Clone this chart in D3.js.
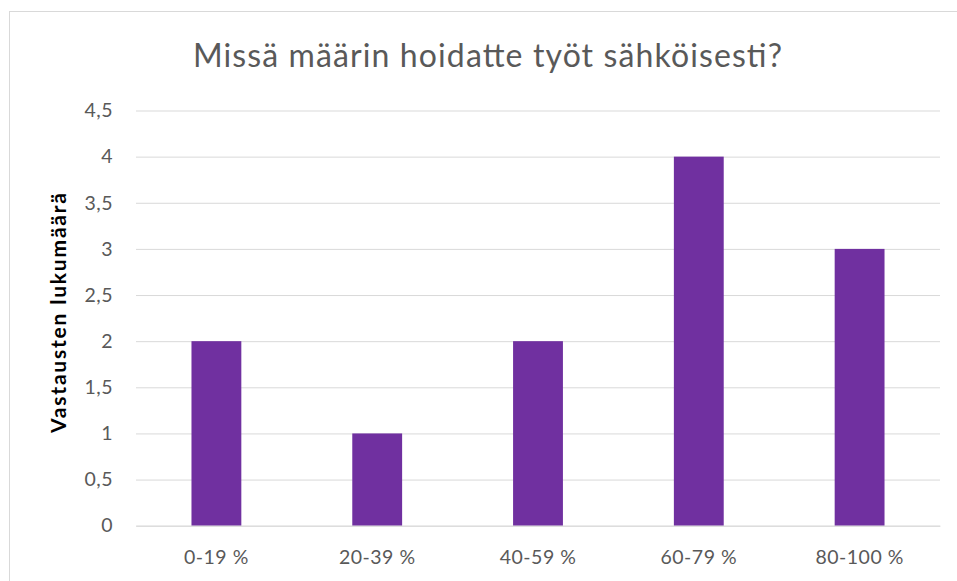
<!DOCTYPE html>
<html><head><meta charset="utf-8">
<script src="https://cdn.jsdelivr.net/npm/d3@7"></script>
<style>body{margin:0;background:#fff}svg{display:block}</style>
</head><body><svg id="c" width="957" height="581"></svg>
<script>
const categories = ["0-19 %", "20-39 %", "40-59 %", "60-79 %", "80-100 %"];
const values = [2, 1, 2, 4, 3];
const yTicks = [0, 0.5, 1, 1.5, 2, 2.5, 3, 3.5, 4, 4.5];
const titleText = "Missä määrin hoidatte työt sähköisesti?";
const yTitle = "Vastausten lukumäärä";

const svg = d3.select("#c");
const font = "Lato, 'Open Sans', sans-serif";
const m = {left: 136, right: 940, top: 110.5, bottom: 525.7};

// chart border
svg.append("rect").attr("x", 9.5).attr("y", 11.5).attr("width", 960).attr("height", 600)
  .attr("fill", "none").attr("stroke", "#d9d9d9").attr("stroke-width", 1);

const x = d3.scaleBand().domain(categories).range([m.left, m.right]).paddingInner(0.69).paddingOuter(0.345);
const y = d3.scaleLinear().domain([0, 4.5]).range([m.bottom, m.top]);
const fmt = v => String(v).replace(".", ",");

// gridlines
const yAxis = d3.axisLeft(y).tickValues(yTicks).tickFormat(fmt).tickSize(-(m.right - m.left)).tickPadding(23);
const gy = svg.append("g").attr("transform", `translate(${m.left},0)`).call(yAxis);
gy.select(".domain").remove();
gy.selectAll(".tick line").attr("stroke", "#d9d9d9").attr("stroke-width", 1);
gy.selectAll(".tick text").attr("fill", "#595959").attr("font-family", font).attr("font-size", 19.5)
  .attr("letter-spacing", 0.5);

// bars
svg.append("g").selectAll("rect").data(values).join("rect")
  .attr("x", (d, i) => x(categories[i]))
  .attr("y", d => y(d))
  .attr("width", x.bandwidth())
  .attr("height", d => y(0) - y(d))
  .attr("fill", "#7030a0");

// x axis
const xAxis = d3.axisBottom(x).tickSize(0).tickPadding(24);
const gx = svg.append("g").attr("transform", `translate(0,${m.bottom})`).call(xAxis);
gx.select(".domain").attr("stroke", "#d9d9d9");
gx.selectAll(".tick text").attr("fill", "#595959").attr("font-family", font).attr("font-size", 19.5)
  .attr("letter-spacing", 0.5);

// title
svg.append("text").attr("x", 487.5).attr("y", 67).attr("text-anchor", "middle")
  .attr("fill", "#595959").attr("font-family", font).attr("font-size", 32)
  .attr("textLength", 589).attr("lengthAdjust", "spacing").text(titleText);

// y title
svg.append("text").attr("transform", "translate(66,313) rotate(-90)").attr("text-anchor", "middle")
  .attr("fill", "#000").attr("font-weight", "bold").attr("font-family", font).attr("font-size", 21)
  .attr("textLength", 240).attr("lengthAdjust", "spacing").text(yTitle);
</script></body></html>
